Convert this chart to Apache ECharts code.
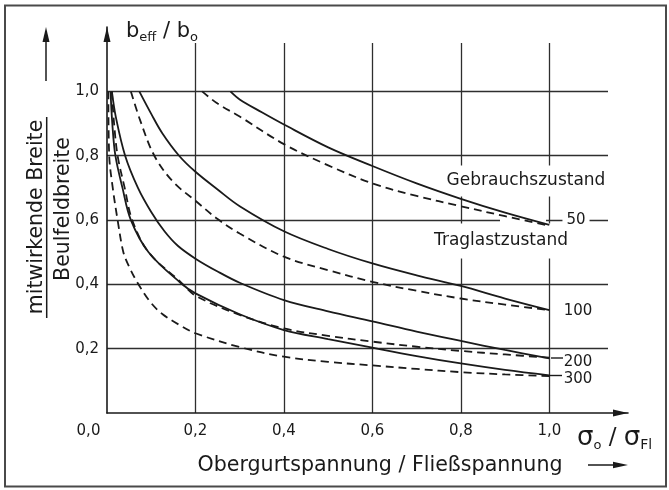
<!DOCTYPE html>
<html>
<head>
<meta charset="utf-8">
<style>
  html, body { margin: 0; padding: 0; background: #fff; }
  #main { width: 669px; height: 490px; }
</style>
<script src="https://cdn.jsdelivr.net/npm/echarts@6/dist/echarts.min.js"></script>
</head>
<body>
<div id="main"></div>
<script>
// tick labels
var xTickLabels = ['0,0', '0,2', '0,4', '0,6', '0,8', '1,0'];
var yTickLabels = ['0,0', '0,2', '0,4', '0,6', '0,8', '1,0'];
var curveLabels = ['50', '100', '200', '300'];

// Gebrauchszustand (solid) and Traglastzustand (dashed), [sigma_o/sigma_Fl, b_eff/b_o]
var gebrauch50 = [[0.279, 1.0], [0.3, 0.975], [0.35, 0.935], [0.4, 0.897], [0.5, 0.826], [0.6, 0.768], [0.7, 0.714], [0.8, 0.666], [0.9, 0.623], [1.0, 0.585]];
var traglast50 = [[0.215, 1.0], [0.25, 0.962], [0.3, 0.922], [0.4, 0.836], [0.5, 0.77], [0.6, 0.714], [0.7, 0.675], [0.8, 0.643], [0.9, 0.612], [1.0, 0.582]];
var gebrauch100 = [[0.073, 1.0], [0.1, 0.93], [0.125, 0.87], [0.163, 0.80], [0.2, 0.75], [0.25, 0.695], [0.3, 0.643], [0.4, 0.565], [0.5, 0.51], [0.6, 0.465], [0.7, 0.428], [0.8, 0.395], [0.9, 0.356], [1.0, 0.32]];
var traglast100 = [[0.054, 1.0], [0.075, 0.91], [0.107, 0.80], [0.15, 0.718], [0.2, 0.66], [0.25, 0.603], [0.3, 0.558], [0.4, 0.486], [0.5, 0.444], [0.6, 0.408], [0.7, 0.38], [0.8, 0.356], [0.9, 0.337], [1.0, 0.32]];
var gebrauch200 = [[0.011, 1.0], [0.02, 0.92], [0.041, 0.80], [0.07, 0.70], [0.1, 0.625], [0.13, 0.565], [0.16, 0.52], [0.2, 0.48], [0.25, 0.44], [0.3, 0.405], [0.4, 0.351], [0.5, 0.316], [0.6, 0.285], [0.7, 0.253], [0.8, 0.224], [0.9, 0.196], [1.0, 0.17]];
var traglast200 = [[0.011, 1.0], [0.016, 0.90], [0.024, 0.80], [0.04, 0.70], [0.057, 0.60], [0.094, 0.50], [0.166, 0.408], [0.2, 0.365], [0.3, 0.305], [0.4, 0.263], [0.5, 0.24], [0.6, 0.222], [0.7, 0.206], [0.8, 0.193], [0.9, 0.182], [1.0, 0.172]];
var gebrauch300 = [[0.008, 1.0], [0.012, 0.90], [0.019, 0.80], [0.035, 0.70], [0.054, 0.60], [0.094, 0.50], [0.166, 0.405], [0.2, 0.372], [0.3, 0.307], [0.4, 0.258], [0.5, 0.23], [0.6, 0.203], [0.7, 0.177], [0.8, 0.154], [0.9, 0.134], [1.0, 0.117]];
var traglast300 = [[0.003, 1.0], [0.005, 0.80], [0.013, 0.70], [0.024, 0.60], [0.037, 0.50], [0.05, 0.455], [0.069, 0.405], [0.098, 0.345], [0.125, 0.308], [0.166, 0.272], [0.2, 0.248], [0.3, 0.205], [0.4, 0.175], [0.5, 0.159], [0.6, 0.148], [0.7, 0.137], [0.8, 0.127], [0.9, 0.12], [1.0, 0.115]];

var ink = '#1a1a1a';
var gridInk = '#2e2e2e';
var font = '"DejaVu Sans", sans-serif';

function tickText(labels, v) {
  var i = Math.round(v / 0.2);
  if (Math.abs(v - i * 0.2) > 1e-6 || i > 5) return '';
  return labels[i];
}

function curve(name, data, dashed) {
  return {
    name: name,
    type: 'line',
    xAxisIndex: 0,
    yAxisIndex: 0,
    data: data,
    symbol: 'none',
    smooth: 0.35,
    silent: true,
    lineStyle: { color: ink, width: 1.8, type: dashed ? [8, 5] : 'solid' }
  };
}

function label(text, x, y, size, extra) {
  var st = {
    text: text, font: size + 'px ' + font, fill: ink,
    textAlign: 'center', textVerticalAlign: 'middle', align: 'center', verticalAlign: 'middle'
  };
  for (var k in extra) st[k] = extra[k];
  return { type: 'text', x: x, y: y, z: 1, style: st };
}

function seg(x1, y1, x2, y2, w) {
  return { type: 'line', z: 1, shape: { x1: x1, y1: y1, x2: x2, y2: y2 }, style: { stroke: ink, lineWidth: w || 1.5 } };
}

var chart = echarts.init(document.getElementById('main'));
chart.setOption({
  animation: false,
  backgroundColor: '#fff',
  grid: [
    { left: 107, top: 43, width: 501, height: 370, outerBoundsMode: 'none' },
    { left: 107, top: 27, width: 521, height: 386, outerBoundsMode: 'none' }
  ],
  xAxis: [{
    type: 'value', gridIndex: 0, min: 0, max: 1.1327, interval: 0.2,
    axisLine: { show: false }, axisTick: { show: false },
    splitLine: { show: true, showMinLine: false, showMaxLine: false, lineStyle: { color: gridInk, width: 1.3 } },
    axisLabel: {
      showMaxLabel: false, margin: 11, color: ink, fontFamily: font, fontSize: 15,
      formatter: function (v) {
        var t = tickText(xTickLabels, v);
        return Math.abs(v) < 1e-9 ? '{o|' + t + '}' : t;
      },
      rich: { o: { padding: [0, 37, 0, 0], color: ink, fontFamily: font, fontSize: 15 } }
    }
  }, {
    type: 'value', gridIndex: 1, min: 0, max: 1,
    axisLine: { show: true, symbol: ['none', 'triangle'], symbolSize: [7, 15], symbolOffset: [0, -7.5], lineStyle: { color: ink, width: 1.6 } },
    axisTick: { show: false }, axisLabel: { show: false }, splitLine: { show: false }
  }],
  yAxis: [{
    type: 'value', gridIndex: 0, min: 0, max: 1.1505, interval: 0.2,
    axisLine: { show: false }, axisTick: { show: false },
    splitLine: { show: true, showMinLine: false, showMaxLine: false, lineStyle: { color: gridInk, width: 1.3 } },
    axisLabel: {
      showMinLabel: false, showMaxLabel: false, margin: 8, color: ink, fontFamily: font, fontSize: 15,
      formatter: function (v) { return tickText(yTickLabels, v); }
    }
  }, {
    type: 'value', gridIndex: 1, min: 0, max: 1,
    axisLine: { show: true, symbol: ['none', 'triangle'], symbolSize: [7, 15], symbolOffset: [0, -7.5], lineStyle: { color: ink, width: 1.6 } },
    axisTick: { show: false }, axisLabel: { show: false }, splitLine: { show: false }
  }],
  series: [
    curve('Gebrauchszustand 50', gebrauch50, false),
    curve('Traglastzustand 50', traglast50, true),
    curve('Gebrauchszustand 100', gebrauch100, false),
    curve('Traglastzustand 100', traglast100, true),
    curve('Gebrauchszustand 200', gebrauch200, false),
    curve('Traglastzustand 200', traglast200, true),
    curve('Gebrauchszustand 300', gebrauch300, false),
    curve('Traglastzustand 300', traglast300, true)
  ],
  graphic: { elements: [
    // frame
    { type: 'rect', z: 1, shape: { x: 5, y: 5.5, width: 661, height: 481 }, style: { fill: 'none', stroke: '#4a4a4a', lineWidth: 2 } },
    // left arrow next to the y title
    seg(46, 81, 46, 38, 1.5),
    { type: 'polygon', z: 1, shape: { points: [[46, 27], [42.5, 42], [49.5, 42]] }, style: { fill: ink } },
    // arrow after the x title
    seg(588, 465, 618, 465, 1.5),
    { type: 'polygon', z: 1, shape: { points: [[628, 465], [613, 461.8], [613, 468.2]] }, style: { fill: ink } },
    // y title as a fraction
    { type: 'text', x: 37, y: 217, rotation: Math.PI / 2, z: 1, style: { text: 'mitwirkende Breite', font: '20.5px ' + font, fill: ink, textAlign: 'center', textVerticalAlign: 'middle', align: 'center', verticalAlign: 'middle' } },
    seg(46.7, 117, 46.7, 318, 1.5),
    { type: 'text', x: 64, y: 209, rotation: Math.PI / 2, z: 1, style: { text: 'Beulfeldbreite', font: '20.5px ' + font, fill: ink, textAlign: 'center', textVerticalAlign: 'middle', align: 'center', verticalAlign: 'middle' } },
    // b_eff / b_o
    { type: 'text', x: 126, y: 20, z: 1, style: {
      text: '{a|b}{s|eff}{a| / b}{s|o}', fill: ink, textAlign: 'left', textVerticalAlign: 'top', align: 'left', verticalAlign: 'top',
      rich: {
        a: { fontSize: 21, fontFamily: font, lineHeight: 24, fill: ink, color: ink },
        s: { fontSize: 13, fontFamily: font, lineHeight: 16, verticalAlign: 'bottom', fill: ink, color: ink }
      }
    } },
    // sigma_o / sigma_Fl
    { type: 'text', x: 577, y: 424, z: 1, style: {
      text: '{g|σ}{s|o}{h| / }{g|σ}{f|Fl}', fill: ink, textAlign: 'left', textVerticalAlign: 'top', align: 'left', verticalAlign: 'top',
      rich: {
        g: { fontSize: 26, fontFamily: font, lineHeight: 28, fill: ink, color: ink },
        h: { fontSize: 23, fontFamily: font, lineHeight: 28, fill: ink, color: ink },
        s: { fontSize: 13, fontFamily: font, lineHeight: 20, verticalAlign: 'bottom', fill: ink, color: ink },
        f: { fontSize: 14, fontFamily: font, lineHeight: 18, verticalAlign: 'bottom', fill: ink, color: ink }
      }
    } },
    // x title
    label('Obergurtspannung / Fließspannung', 380, 466, 20.6, {}),
    // state labels, masking the grid behind them
    label('Gebrauchszustand', 526, 181, 17, { backgroundColor: '#fff', padding: [8, 4, 6, 4] }),
    label('Traglastzustand', 501, 241, 17, { backgroundColor: '#fff', padding: [8, 4, 10, 4] }),
    { type: 'rect', z: 1, shape: { x: 500, y: 216, width: 46, height: 6 }, style: { fill: '#fff' } },
    // curve labels b/t
    label(curveLabels[0], 576, 220, 15, { backgroundColor: '#fff', padding: [2, 4, 2, 4] }),
    label(curveLabels[1], 578, 311, 15, {}),
    label(curveLabels[2], 578, 362, 15, {}),
    label(curveLabels[3], 578, 379.5, 15, {}),
    seg(551, 358, 563, 358, 1.4),
    seg(549, 375.5, 562, 375.5, 1.4)
  ] }
});
</script>
</body>
</html>
